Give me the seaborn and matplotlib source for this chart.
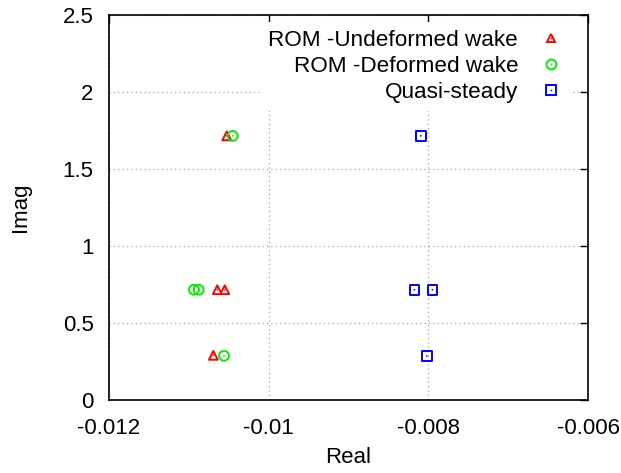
import matplotlib
matplotlib.use("Agg")
import matplotlib.pyplot as plt
import numpy as np
import pandas as pd
import seaborn as sns
from matplotlib.lines import Line2D

# ---------------- data ----------------
series_names = ["ROM -Undeformed wake", "ROM -Deformed wake", "Quasi-steady"]
rom_undeformed_real = [-0.010525, -0.010643, -0.010550, -0.010693]
rom_undeformed_imag = [1.715, 0.716, 0.716, 0.290]
rom_deformed_real = [-0.010450, -0.010935, -0.010876, -0.010559]
rom_deformed_imag = [1.715, 0.716, 0.716, 0.287]
quasi_steady_real = [-0.008094, -0.008174, -0.007950, -0.008020]
quasi_steady_imag = [1.715, 0.716, 0.716, 0.285]

x_ticks = [-0.012, -0.010, -0.008, -0.006]
x_tick_labels = ["-0.012", "-0.01", "-0.008", "-0.006"]
y_ticks = [0, 0.5, 1, 1.5, 2, 2.5]
y_tick_labels = ["0", "0.5", "1", "1.5", "2", "2.5"]
x_label = "Real"
y_label = "Imag"

frames = []
for name, xr, yi in zip(series_names,
                        [rom_undeformed_real, rom_deformed_real, quasi_steady_real],
                        [rom_undeformed_imag, rom_deformed_imag, quasi_steady_imag]):
    frames.append(pd.DataFrame({"Real": xr, "Imag": yi, "Series": name}))
df = pd.concat(frames, ignore_index=True)

# ---------------- style ----------------
sns.set_style("white")
plt.rcParams["font.family"] = ["Liberation Sans", "DejaVu Sans"]
plt.rcParams["font.size"] = 16
for key in ["text.color", "axes.labelcolor", "xtick.color", "ytick.color", "axes.edgecolor"]:
    plt.rcParams[key] = "black"

colors = {series_names[0]: "#ff0000", series_names[1]: "#00ee00", series_names[2]: "#0000ff"}
markers = {series_names[0]: "^", series_names[1]: "o", series_names[2]: "s"}
sizes = {series_names[0]: 40, series_names[1]: 50, series_names[2]: 48}
lw = 1.4

fig = plt.figure(figsize=(6.21, 4.73), dpi=100)
pos = [109 / 621, 1 - 400 / 473, (588 - 109) / 621, (400 - 15) / 473]

# grid axes underneath
ax_grid = fig.add_axes(pos, zorder=0)
ax = fig.add_axes(pos, zorder=1, sharex=ax_grid, sharey=ax_grid)
ax.patch.set_alpha(0)

for name in series_names:
    sub = df[df["Series"] == name]
    sns.scatterplot(data=sub, x="Real", y="Imag", ax=ax, marker=markers[name],
                    s=sizes[name], facecolor="none", edgecolor=colors[name],
                    linewidth=lw, legend=False, zorder=3)
    sns.scatterplot(data=sub, x="Real", y="Imag", ax=ax, marker="o",
                    s=1.5, color=colors[name], edgecolor="none",
                    linewidth=0, legend=False, zorder=3)

ax.set_xlim(-0.012, -0.006)
ax.set_ylim(0, 2.5)
ax.set_xticks(x_ticks)
ax.set_xticklabels(x_tick_labels)
ax.set_yticks(y_ticks)
ax.set_yticklabels(y_tick_labels)
ax.set_xlabel(x_label, fontsize=16, labelpad=6)
ax.set_ylabel(y_label, fontsize=16, labelpad=23)
ax.tick_params(direction="in", length=6, width=1, top=True, right=True,
               labelsize=16, colors="black")
ax.tick_params(axis="x", pad=13)
ax.tick_params(axis="y", pad=11)
for sp in ax.spines.values():
    sp.set_linewidth(1.2)
    sp.set_color("black")

ax_grid.grid(True, color="#a0a0a0", linestyle=(0, (1, 2.5)), linewidth=0.9)
ax_grid.tick_params(length=0, labelbottom=False, labelleft=False)
for sp in ax_grid.spines.values():
    sp.set_visible(False)

handles = []
for name in series_names:
    h1 = Line2D([], [], linestyle="none", marker=markers[name],
                markersize=np.sqrt(sizes[name]), markerfacecolor="none",
                markeredgecolor=colors[name], markeredgewidth=lw)
    h2 = Line2D([], [], linestyle="none", marker="o", markersize=1.2,
                markerfacecolor=colors[name], markeredgecolor="none")
    handles.append((h1, h2))

leg = ax.legend(handles, series_names, loc="upper right",
                bbox_to_anchor=((570 - 109) / 479, 1 - 7 / 385), borderaxespad=0,
                markerfirst=False, frameon=True, fancybox=False,
                framealpha=1, facecolor="white", edgecolor="none",
                handlelength=1.0, handletextpad=0.95, labelspacing=0.22,
                borderpad=0.35, fontsize=16.2)
leg.set_zorder(2)

fig.savefig("out.png", dpi=100, facecolor="white")
